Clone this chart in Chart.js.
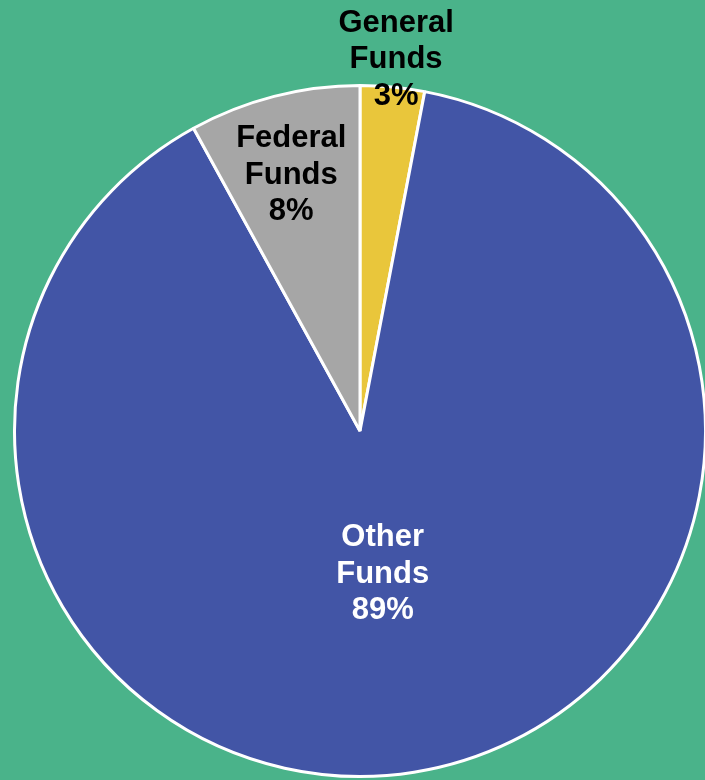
<!DOCTYPE html>
<html>
<head>
<meta charset="utf-8">
<script src="https://cdn.jsdelivr.net/npm/chart.js@4"></script>
<style>
  html, body { margin: 0; padding: 0; background: #4AB38A; overflow: hidden; }
  #wrap { width: 710px; height: 780px; position: relative; }
</style>
</head>
<body>
<div id="wrap"><canvas id="c" width="710" height="780"></canvas></div>
<script>
const categories = ["General Funds", "Other Funds", "Federal Funds"];
const labelLines = [["General", "Funds"], ["Other", "Funds"], ["Federal", "Funds"]];
const values = [3, 89, 8];
const sliceColors = ["#E9C63B", "#4255A6", "#A6A6A6"];
const labelColors = ["#000000", "#FFFFFF", "#000000"];

const labelPlugin = {
  id: 'sliceLabels',
  afterDatasetsDraw(chart, args, opts) {
    const ctx = chart.ctx;
    const meta = chart.getDatasetMeta(0);
    ctx.save();
    ctx.font = opts.font;
    ctx.textAlign = 'center';
    ctx.textBaseline = 'middle';
    meta.data.forEach((arc, i) => {
      const p = arc.getProps(['x', 'y', 'startAngle', 'endAngle', 'outerRadius'], true);
      const mid = (p.startAngle + p.endAngle) / 2;
      const r = p.outerRadius * opts.radius[i];
      const cx = p.x + Math.cos(mid) * r + opts.shiftX[i];
      const cy = p.y + Math.sin(mid) * r;
      const lines = labelLines[i].concat([values[i] + '%']);
      const lh = opts.lineHeight;
      ctx.fillStyle = labelColors[i];
      lines.forEach((t, k) => {
        ctx.fillText(t, cx, cy + (k - (lines.length - 1) / 2) * lh);
      });
    });
    ctx.restore();
  }
};

new Chart(document.getElementById('c'), {
  type: 'pie',
  data: {
    labels: categories,
    datasets: [{
      data: values,
      backgroundColor: sliceColors,
      borderColor: '#FFFFFF',
      borderWidth: 3
    }]
  },
  options: {
    responsive: false,
    animation: false,
    rotation: 0,
    layout: { padding: { left: 13, top: 84, right: 3, bottom: 2 } },
    plugins: {
      legend: { display: false },
      tooltip: { enabled: false },
      sliceLabels: {
        font: 'bold 31px "Liberation Sans", Arial, sans-serif',
        lineHeight: 36.5,
        radius: [1.08, 0.42, 0.765],
        shiftX: [1, 0, -3]
      }
    }
  },
  plugins: [labelPlugin]
});
</script>
</body>
</html>
